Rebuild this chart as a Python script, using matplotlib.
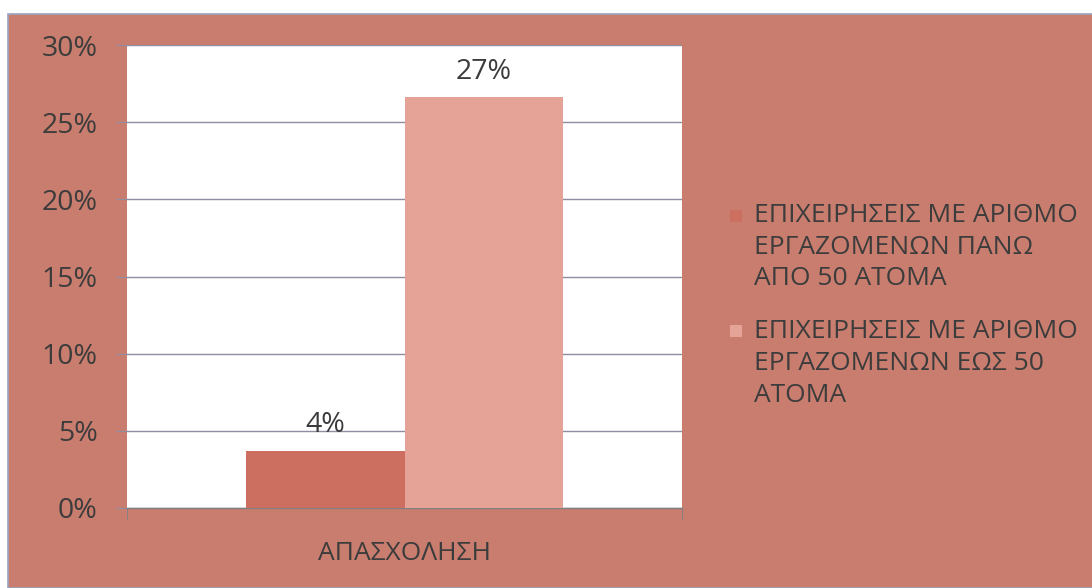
import matplotlib
matplotlib.use("Agg")
import matplotlib.pyplot as plt
from matplotlib.patches import Rectangle
from matplotlib.ticker import FuncFormatter, FixedLocator

plt.rcParams['font.family'] = ['Open Sans', 'DejaVu Sans']

# Data
category = ["ΑΠΑΣΧΟΛΗΣΗ"]
series_labels = [
    ["ΕΠΙΧΕΙΡΗΣΕΙΣ ΜΕ ΑΡΙΘΜΟ", "ΕΡΓΑΖΟΜΕΝΩΝ ΠΑΝΩ", "ΑΠΟ 50 ΑΤΟΜΑ"],
    ["ΕΠΙΧΕΙΡΗΣΕΙΣ ΜΕ ΑΡΙΘΜΟ", "ΕΡΓΑΖΟΜΕΝΩΝ ΕΩΣ 50", "ΑΤΟΜΑ"],
]
series_values = [3.7, 26.6]  # percent
y_ticks = [0, 5, 10, 15, 20, 25, 30]

panel_color = "#C97D6E"
bar_colors = ["#CD6F60", "#E5A297"]
text_color = "#3C3C3C"
grid_color = "#8E8EA2"
FS_TEXT = 19
FS_PCT = 20.5

W, H = 1092, 588
fig = plt.figure(figsize=(W / 100, H / 100), dpi=100)
fig.patch.set_facecolor("white")

# salmon panel behind the chart
fig.patches.append(Rectangle((8 / W, 0), 1.0, 1 - 14 / H, transform=fig.transFigure,
                             facecolor=panel_color, edgecolor="#9AA4C0", linewidth=1.2,
                             zorder=-10))

ax = fig.add_axes([127 / W, 1 - 508 / H, (682 - 127) / W, (508 - 45) / H])
ax.set_facecolor("white")

width = 0.285
offsets = [-0.1425, 0.1425]
for val, off, col in zip(series_values, offsets, bar_colors):
    ax.bar(0 + off, val, width=width, color=col, zorder=3)
    ax.annotate(f"{val:.0f}%", (0 + off, val), xytext=(0, 13.5), textcoords="offset points",
                ha="center", va="baseline", fontsize=FS_PCT, color=text_color)

ax.set_xlim(-0.5, 0.5)
ax.set_ylim(0, 30)
ax.yaxis.set_major_locator(FixedLocator(y_ticks))
ax.yaxis.set_major_formatter(FuncFormatter(lambda v, p: f"{v:.0f}%"))
ax.grid(axis="y", color=grid_color, linewidth=1.0, zorder=0)
ax.tick_params(axis="y", length=8, color=grid_color, labelsize=FS_PCT,
               labelcolor=text_color, pad=13)

ax.set_xticks([0])
ax.set_xticklabels(category, fontsize=FS_TEXT, color=text_color)
ax.tick_params(axis="x", which="major", length=0, pad=24)
ax.set_xticks([-0.5, 0.5], minor=True)
ax.tick_params(axis="x", which="minor", length=8, color="#808080")

for side in ["top", "right", "left"]:
    ax.spines[side].set_visible(False)
ax.spines["bottom"].set_color("#808080")
ax.spines["bottom"].set_linewidth(1.0)

# legend: colour square plus wrapped label lines
square_tops = [210, 325]
line_baselines = [[222, 253.5, 285], [338, 370, 402]]
for lines, col, ys, ybs in zip(series_labels, bar_colors, square_tops, line_baselines):
    fig.patches.append(Rectangle((730 / W, 1 - (ys + 12) / H), 12 / W, 12 / H,
                                 transform=fig.transFigure, facecolor=col,
                                 edgecolor="none"))
    for line, yb in zip(lines, ybs):
        fig.text(754 / W, 1 - yb / H, line, ha="left", va="baseline",
                 fontsize=FS_TEXT, color=text_color)

fig.savefig("out.png", dpi=100)
